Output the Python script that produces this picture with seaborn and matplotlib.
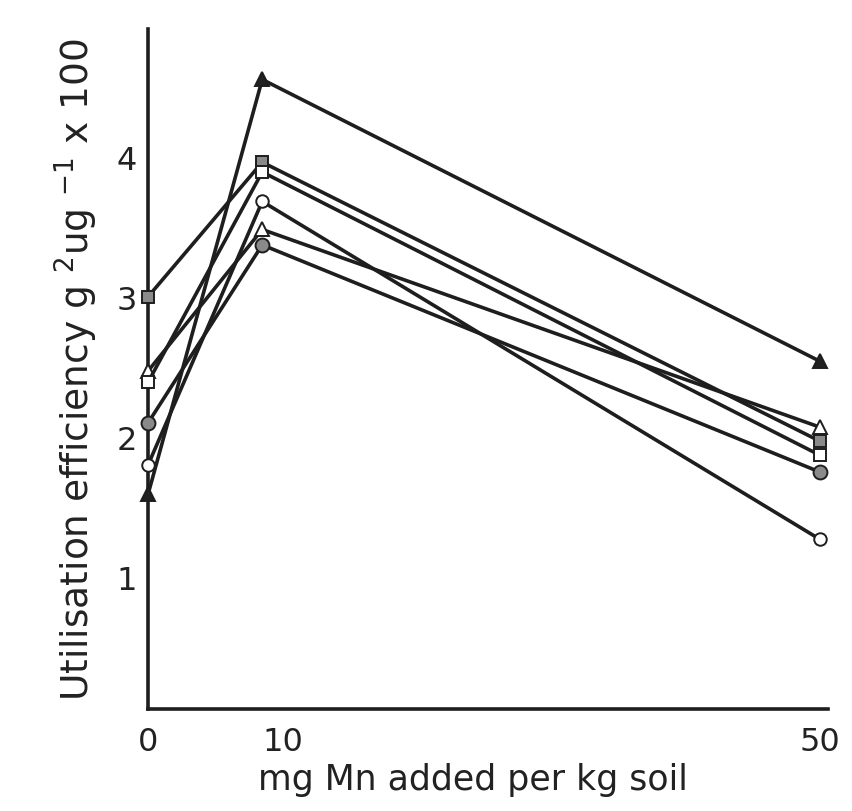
import matplotlib
matplotlib.use("Agg")
import matplotlib.pyplot as plt
import seaborn as sns
import pandas as pd

# Mn added (x positions as drawn)
mn_added = [0, 8.5, 50]

# Series values (utilisation efficiency, g^2 ug^-1 x 100)
filled_triangle = [1.59, 4.55, 2.54]
open_triangle = [2.47, 3.48, 2.07]
filled_square = [3.00, 3.96, 1.97]
open_square = [2.39, 3.89, 1.87]
open_circle = [1.80, 3.68, 1.27]
filled_circle = [2.10, 3.37, 1.75]

series_names = ["filled_triangle", "open_triangle", "filled_square",
                "open_square", "open_circle", "filled_circle"]
series_values = [filled_triangle, open_triangle, filled_square,
                 open_square, open_circle, filled_circle]

x_ticks = [0, 10, 50]
x_tick_labels = ["0", "10", "50"]
y_ticks = [1, 2, 3, 4]
y_tick_labels = ["1", "2", "3", "4"]

styles = {
    "filled_triangle": dict(marker="^", mfc="#222222", ms=10),
    "open_triangle": dict(marker="^", mfc="white", ms=10),
    "filled_square": dict(marker="s", mfc="#8a8a8a", ms=9),
    "open_square": dict(marker="s", mfc="white", ms=9),
    "open_circle": dict(marker="o", mfc="white", ms=9),
    "filled_circle": dict(marker="o", mfc="#8a8a8a", ms=10),
}

rows = []
for name, vals in zip(series_names, series_values):
    for xv, yv in zip(mn_added, vals):
        rows.append({"series": name, "x": xv, "y": yv})
df = pd.DataFrame(rows)

sns.set_style("white")
plt.rcParams["font.family"] = ["DejaVu Sans"]

fig = plt.figure(figsize=(8.53, 8.12), dpi=100)
ax = fig.add_axes([148 / 853, 102 / 812, (828 - 148) / 853, (710 - 30) / 812])

for name in series_names:
    st = styles[name]
    sub = df[df["series"] == name]
    sns.lineplot(data=sub, x="x", y="y", ax=ax, color="#1e1e1e", linewidth=2.6,
                 marker=st["marker"], markersize=st["ms"],
                 markerfacecolor=st["mfc"], markeredgecolor="#1e1e1e",
                 markeredgewidth=1.4, clip_on=False, zorder=3)

ax.set_xlim(0, 50.6)
ax.set_ylim(0.06, 4.91)
ax.set_xticks([v * 1.0 for v in x_ticks])
ax.set_xticklabels(x_tick_labels)
ax.set_yticks(y_ticks)
ax.set_yticklabels(y_tick_labels)

for side in ["top", "right"]:
    ax.spines[side].set_visible(False)
for side in ["left", "bottom"]:
    ax.spines[side].set_color("#1e1e1e")
    ax.spines[side].set_linewidth(2.6)

ax.tick_params(axis="both", direction="in", length=7, width=1.5,
               colors="#222222", labelsize=23, pad=8)
ax.tick_params(axis="x", pad=12)

ax.set_xlabel("mg Mn added per kg soil", fontsize=25, color="#222222")
ax.xaxis.set_label_coords(0.478, -0.078)
ax.set_ylabel(r"Utilisation efficiency g $^{2}$ug $^{-1}$ x 100", fontsize=27,
              color="#222222", labelpad=12)

fig.savefig("out.png", dpi=100)
